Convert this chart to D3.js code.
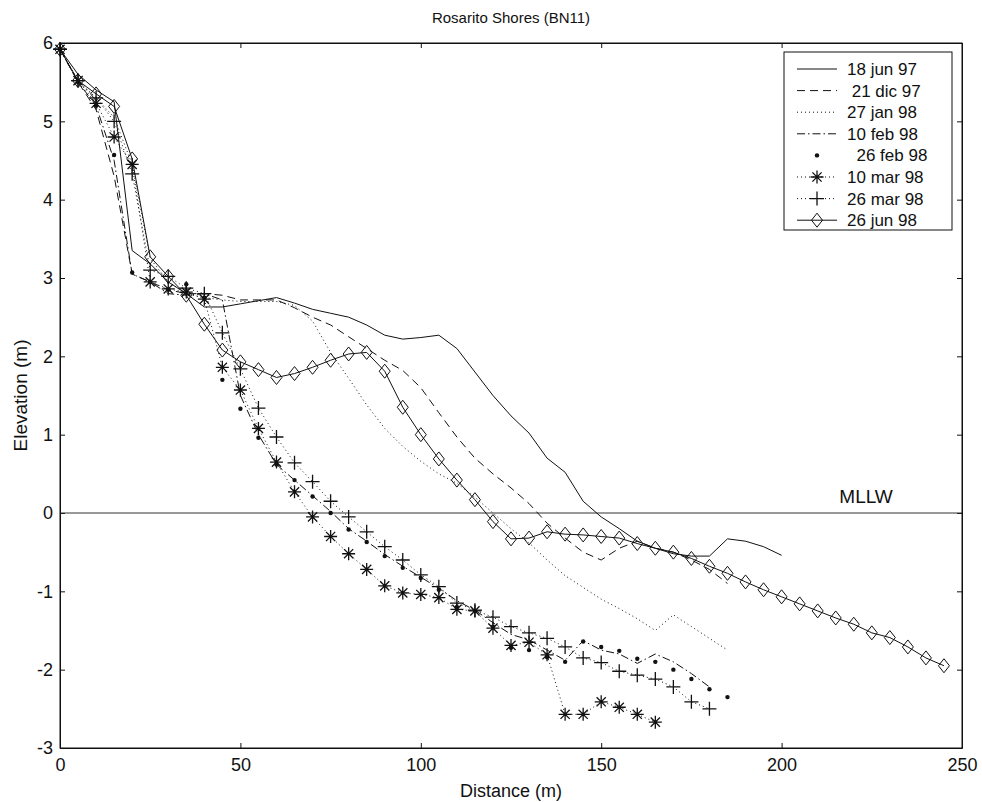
<!DOCTYPE html>
<html>
<head>
<meta charset="utf-8">
<script src="https://cdn.jsdelivr.net/npm/d3@7"></script>
<style>
  body { margin: 0; background: #fff; }
  svg text { font-family: "Liberation Sans", Arial, sans-serif; fill: #111; }
</style>
</head>
<body>
<svg id="chart" width="982" height="802"></svg>
<script>
// distance stations (m), every profile starts at 0 and is sampled every 5 m
const distance = [0, 5, 10, 15, 20, 25, 30, 35, 40, 45, 50, 55, 60, 65, 70, 75, 80, 85, 90, 95,
  100, 105, 110, 115, 120, 125, 130, 135, 140, 145, 150, 155, 160, 165, 170, 175, 180, 185, 190, 195,
  200, 205, 210, 215, 220, 225, 230, 235, 240, 245];

// elevation (m) of each survey
const jun97 = [5.92, 5.6, 5.4, 5.25, 3.35, 3.18, 2.95, 2.8, 2.63, 2.63, 2.67, 2.71, 2.75, 2.68, 2.6,
  2.55, 2.5, 2.4, 2.27, 2.22, 2.24, 2.27, 2.1, 1.8, 1.5, 1.24, 1.02, 0.7, 0.52, 0.15, -0.05, -0.2,
  -0.36, -0.45, -0.52, -0.55, -0.55, -0.33, -0.36, -0.43, -0.54];
const dic97 = [5.92, 5.5, 5.15, 4.3, 3.05, 2.95, 2.85, 2.8, 2.8, 2.78, 2.72, 2.72, 2.72, 2.62, 2.5,
  2.4, 2.25, 2.1, 1.95, 1.82, 1.6, 1.28, 0.97, 0.7, 0.5, 0.32, 0.12, -0.13, -0.32, -0.5, -0.6, -0.45,
  -0.36, -0.45, -0.5, -0.6, -0.72, -0.9];
const jan98 = [5.92, 5.5, 5.3, 5.05, 4.45, 3.25, 2.95, 2.8, 2.75, 2.72, 2.7, 2.7, 2.7, 2.65, 2.45,
  2.05, 1.72, 1.38, 1.08, 0.85, 0.66, 0.5, 0.38, 0.2, 0.0, -0.2, -0.38, -0.6, -0.8, -0.95, -1.1,
  -1.22, -1.35, -1.5, -1.3, -1.45, -1.6, -1.75];
const feb10 = [5.92, 5.5, 5.2, 4.5, 3.05, 2.95, 2.8, 2.78, 2.8, 2.72, 1.5, 1.0, 0.62, 0.42, 0.22,
  0.02, -0.2, -0.36, -0.53, -0.68, -0.82, -0.96, -1.12, -1.24, -1.4, -1.55, -1.62, -1.75, -1.88,
  -1.63, -1.75, -1.8, -1.92, -1.8, -1.9, -2.05, -2.22];
const feb26 = [5.92, 5.5, 5.2, 4.57, 3.07, 2.95, 2.85, 2.92, 2.75, 1.7, 1.33, 0.96, 0.62, 0.42, 0.21,
  0.0, -0.21, -0.37, -0.55, -0.7, -0.83, -0.98, -1.2, -1.25, -1.45, -1.72, -1.75, -1.84, -1.9, -1.64,
  -1.71, -1.76, -1.86, -1.9, -2.0, -2.12, -2.25, -2.35];
const mar10 = [5.92, 5.52, 5.23, 4.8, 4.45, 2.95, 2.86, 2.82, 2.73, 1.86, 1.57, 1.08, 0.65, 0.27,
  -0.05, -0.3, -0.52, -0.72, -0.93, -1.02, -1.04, -1.08, -1.23, -1.25, -1.47, -1.69, -1.65, -1.81,
  -2.57, -2.57, -2.41, -2.48, -2.57, -2.67];
const mar26 = [5.92, 5.52, 5.3, 5.0, 4.33, 3.1, 3.02, 2.87, 2.8, 2.3, 1.84, 1.34, 0.97, 0.64, 0.4,
  0.15, -0.05, -0.24, -0.43, -0.6, -0.79, -0.94, -1.15, -1.24, -1.33, -1.45, -1.53, -1.6, -1.71,
  -1.85, -1.91, -2.02, -2.07, -2.12, -2.22, -2.41, -2.5];
const jun98 = [5.92, 5.52, 5.35, 5.19, 4.52, 3.27, 3.02, 2.78, 2.41, 2.08, 1.93, 1.83, 1.73, 1.78,
  1.86, 1.95, 2.03, 2.05, 1.81, 1.35, 1.0, 0.69, 0.42, 0.17, -0.11, -0.33, -0.32, -0.24, -0.27, -0.28,
  -0.3, -0.32, -0.39, -0.45, -0.5, -0.58, -0.68, -0.77, -0.88, -0.98, -1.07, -1.16, -1.25, -1.34,
  -1.42, -1.53, -1.59, -1.71, -1.85, -1.95];

const labels = ["18 jun 97", " 21 dic 97", "27 jan 98", "10 feb 98", "  26 feb 98", "10 mar 98", "26 mar 98", "26 jun 98"];
const xTicks = [0, 50, 100, 150, 200, 250];
const yTicks = [-3, -2, -1, 0, 1, 2, 3, 4, 5, 6];

const series = [
  { name: labels[0], elev: jun97, dash: null, line: true, marker: null },
  { name: labels[1], elev: dic97, dash: "8,5", line: true, marker: null },
  { name: labels[2], elev: jan98, dash: "1,3", line: true, marker: null },
  { name: labels[3], elev: feb10, dash: "8,3,1.5,3", line: true, marker: null },
  { name: labels[4], elev: feb26, dash: null, line: false, marker: "dot" },
  { name: labels[5], elev: mar10, dash: "1,3", line: true, marker: "star" },
  { name: labels[6], elev: mar26, dash: "1,3", line: true, marker: "plus" },
  { name: labels[7], elev: jun98, dash: null, line: true, marker: "diamond" }
].map(s => ({ ...s, pts: s.elev.map((e, i) => ({ x: distance[i], y: e })) }));

const margin = { top: 43, right: 20, bottom: 54, left: 60 },
      width = 902, height = 705;

const svg = d3.select("#chart")
  .append("g")
  .attr("transform", `translate(${margin.left},${margin.top})`);

const x = d3.scaleLinear().domain([0, 250]).range([0, width]);
const y = d3.scaleLinear().domain([-3, 6]).range([height, 0]);

// plain hyphen for negatives, like the original plot
const fmt = d => String(d);

// axes, ticks pointing inside like matlab
svg.append("g").attr("class", "axis")
  .attr("transform", `translate(0,${height})`)
  .call(d3.axisBottom(x).tickValues(xTicks).tickFormat(fmt).tickSizeInner(-5).tickSizeOuter(0).tickPadding(10));
svg.append("g").attr("class", "axis")
  .call(d3.axisTop(x).tickValues(xTicks).tickSizeInner(-5).tickSizeOuter(0).tickFormat(""));
svg.append("g").attr("class", "axis")
  .call(d3.axisLeft(y).tickValues(yTicks).tickFormat(fmt).tickSizeInner(-5).tickSizeOuter(0).tickPadding(7));
svg.append("g").attr("class", "axis")
  .attr("transform", `translate(${width},0)`)
  .call(d3.axisRight(y).tickValues(yTicks).tickSizeInner(-5).tickSizeOuter(0).tickFormat(""));

svg.selectAll(".axis path, .axis line").attr("stroke", "#111").attr("stroke-width", 1);
svg.selectAll(".axis text")
  .style("font-size", "18px")
  .style("font-family", "'Liberation Sans', Arial, sans-serif");

// MLLW reference line
svg.append("line")
  .attr("x1", 0).attr("x2", width)
  .attr("y1", y(0)).attr("y2", y(0))
  .attr("stroke", "#333").attr("stroke-width", 1);
svg.append("text")
  .attr("x", x(216)).attr("y", y(0) - 10)
  .style("font-size", "19px")
  .text("MLLW");

const line = d3.line().x(d => x(d.x)).y(d => y(d.y));

function drawMarker(g, type) {
  if (type === "dot") {
    g.append("circle").attr("r", 2.2).attr("fill", "#111");
  } else if (type === "star") {
    const r = 6.5, q = r * Math.SQRT1_2;
    g.append("path")
      .attr("d", `M${-r},0L${r},0M0,${-r}L0,${r}M${-q},${-q}L${q},${q}M${-q},${q}L${q},${-q}`)
      .attr("stroke", "#111").attr("stroke-width", 1.3).attr("fill", "none");
  } else if (type === "plus") {
    const r = 7;
    g.append("path")
      .attr("d", `M${-r},0L${r},0M0,${-r}L0,${r}`)
      .attr("stroke", "#111").attr("stroke-width", 1.3).attr("fill", "none");
  } else if (type === "diamond") {
    g.append("path")
      .attr("d", "M0,-7L5.5,0L0,7L-5.5,0Z")
      .attr("stroke", "#111").attr("stroke-width", 1).attr("fill", "none");
  }
}

series.forEach(s => {
  if (s.line) {
    svg.append("path")
      .datum(s.pts)
      .attr("d", line)
      .attr("fill", "none")
      .attr("stroke", "#111")
      .attr("stroke-width", 1)
      .attr("stroke-dasharray", s.dash);
  }
  if (s.marker) {
    svg.selectAll(null)
      .data(s.pts)
      .enter().append("g")
      .attr("transform", d => `translate(${x(d.x)},${y(d.y)})`)
      .each(function () { drawMarker(d3.select(this), s.marker); });
  }
});

// frame
svg.append("rect")
  .attr("width", width).attr("height", height)
  .attr("fill", "none").attr("stroke", "#111").attr("stroke-width", 1);

// legend
const legend = svg.append("g").attr("transform", `translate(${784 - margin.left},${52 - margin.top})`);
legend.append("rect")
  .attr("width", 168).attr("height", 178)
  .attr("fill", "#fff").attr("stroke", "#111").attr("stroke-width", 1);
series.forEach((s, i) => {
  const row = legend.append("g").attr("transform", `translate(0,${17 + i * 21.6})`);
  if (s.line) {
    row.append("line")
      .attr("x1", 13).attr("x2", 53)
      .attr("stroke", "#111").attr("stroke-width", 1)
      .attr("stroke-dasharray", s.dash);
  }
  if (s.marker) {
    const m = row.append("g").attr("transform", "translate(33,0)");
    drawMarker(m, s.marker);
  }
  row.append("text")
    .attr("x", 63).attr("dy", "0.35em")
    .attr("xml:space", "preserve")
    .style("white-space", "pre")
    .style("font-size", "17px")
    .text(s.name);
});

// titles
d3.select("#chart").append("text")
  .attr("x", margin.left + width / 2).attr("y", 23)
  .attr("text-anchor", "middle")
  .style("font-size", "15px")
  .text("Rosarito Shores (BN11)");

d3.select("#chart").append("text")
  .attr("x", margin.left + width / 2).attr("y", 797)
  .attr("text-anchor", "middle")
  .style("font-size", "18px")
  .text("Distance (m)");

d3.select("#chart").append("text")
  .attr("transform", `translate(27,${margin.top + height / 2}) rotate(-90)`)
  .attr("text-anchor", "middle")
  .style("font-size", "19px")
  .text("Elevation (m)");
</script>
</body>
</html>
